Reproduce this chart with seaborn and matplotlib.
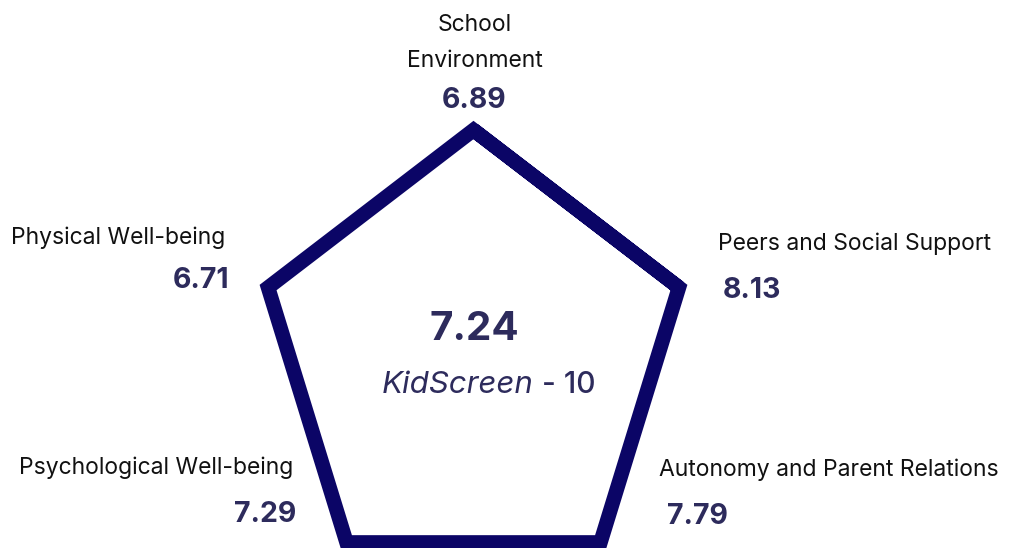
import numpy as np
import pandas as pd
import matplotlib
matplotlib.use("Agg")
import matplotlib.pyplot as plt
import seaborn as sns

# 数据
categories = ["School\nEnvironment", "Peers and Social Support", "Autonomy and Parent Relations",
              "Psychological Well-being", "Physical Well-being"]
scores = [6.89, 8.13, 7.79, 7.29, 6.71]
overall = 7.24
overall_label = "KidScreen"

sns.set_theme(style="white")
plt.rcParams['font.family'] = ['Inter', 'DejaVu Sans']

navy = "#0b0566"
value_col = "#2d2b5c"

fig = plt.figure(figsize=(10.12, 5.48), dpi=100)
ax = fig.add_axes([0, 0, 1, 1])
ax.set_xlim(0, 1012)
ax.set_ylim(548, 0)
ax.axis("off")

# 五边形外框（固定形状，不随分数变化）
cx, cy, rx, ry = 473.5, 358, 216, 228
ang = np.deg2rad(90 - 72 * np.arange(len(categories)))
idx = list(range(len(categories))) + [0, 1]
pent = pd.DataFrame({"x": cx + rx * np.cos(ang[idx]), "y": cy - ry * np.sin(ang[idx])})
sns.lineplot(data=pent, x="x", y="y", sort=False, estimator=None, color=navy, linewidth=10.5,
             solid_joinstyle="miter", solid_capstyle="butt", ax=ax, legend=False)

lab_kw = dict(fontsize=16.5, color="#111111")
val_kw = dict(fontsize=20.5, color=value_col, fontweight="bold")

# 顶部
ax.text(475, 43, categories[0], ha="center", va="center", linespacing=1.85, **lab_kw)
ax.text(474, 101, f"{scores[0]:.2f}", ha="center", va="center", **val_kw)
# 右
ax.text(718, 244, categories[1], ha="left", va="center", **lab_kw)
ax.text(723, 291, f"{scores[1]:.2f}", ha="left", va="center", **val_kw)
# 右下
ax.text(659, 470, categories[2], ha="left", va="center", **lab_kw)
ax.text(667, 517, f"{scores[2]:.2f}", ha="left", va="center", **val_kw)
# 左下
ax.text(19, 468, categories[3], ha="left", va="center", **lab_kw)
ax.text(296, 514, f"{scores[3]:.2f}", ha="right", va="center", **val_kw)
# 左
ax.text(11, 238, categories[4], ha="left", va="center", **lab_kw)
ax.text(229, 280, f"{scores[4]:.2f}", ha="right", va="center", **val_kw)

# 中间总分
ax.text(474, 329, f"{overall:.2f}", ha="center", va="center", fontsize=29,
        fontweight="bold", color=value_col)
ax.text(534, 385, overall_label, ha="right", va="center", fontsize=22.5,
        fontstyle="italic", color=value_col)
ax.text(542, 385, "- 10", ha="left", va="center", fontsize=21.5, fontweight="medium",
        color=value_col)

fig.savefig("out.png", dpi=100)
